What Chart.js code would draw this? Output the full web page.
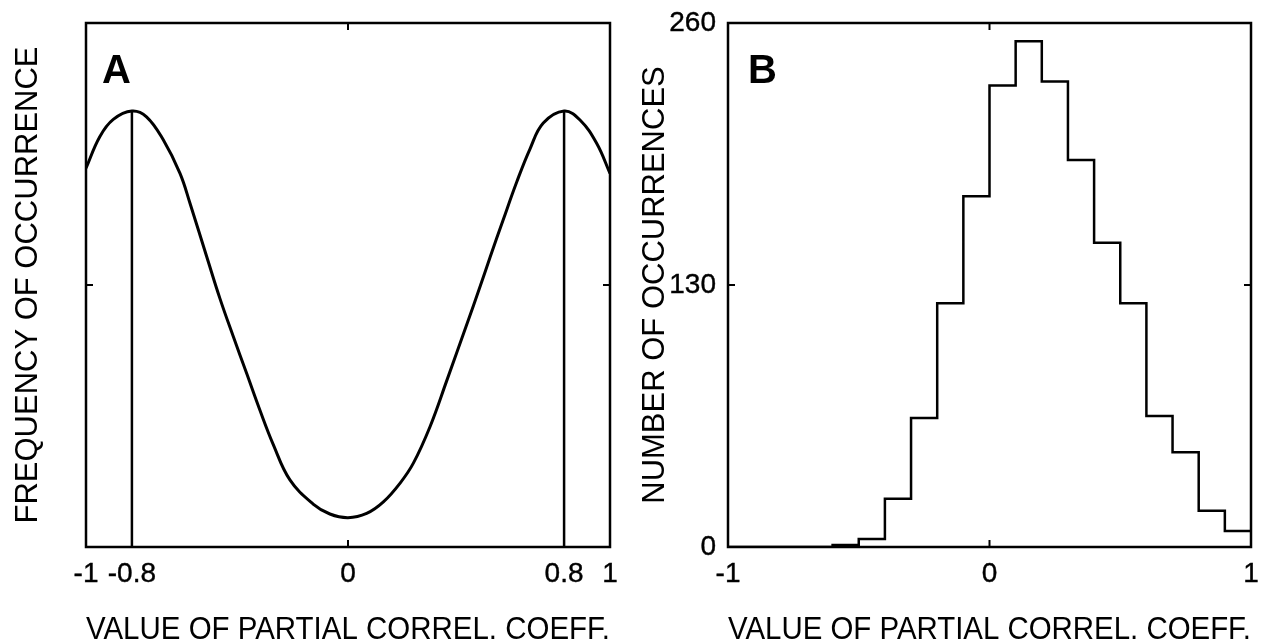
<!DOCTYPE html>
<html>
<head>
<meta charset="utf-8">
<title>Partial correlation coefficients</title>
<script src="https://cdn.jsdelivr.net/npm/chart.js@4.4.1/dist/chart.umd.min.js"></script>
<style>
  html, body { margin: 0; padding: 0; background: #fff; overflow: hidden; }
  #wrap { position: relative; width: 1265px; height: 643px; overflow: hidden; }
  canvas { position: absolute; top: 0; }
  #panelA { left: 0; }
  #panelB { left: 632px; }
</style>
</head>
<body>
<div id="wrap">
  <canvas id="panelA" width="632" height="660"></canvas>
  <canvas id="panelB" width="633" height="660"></canvas>
</div>
<script>
'use strict';

// ── Panel A: frequency curve ─────────────────────────────────────
const curveX = [-0.97, -0.919, -0.869, -0.80, -0.746, -0.684, -0.622, -0.585, -0.523, -0.474,
                -0.425, -0.375, -0.326, -0.277, -0.215, -0.129, -0.067, 0.0, 0.069,
                0.131, 0.193, 0.242, 0.304, 0.366, 0.440, 0.489, 0.526, 0.575, 0.625,
                0.674, 0.723, 0.80, 0.859, 0.921, 0.97];
const curveY = [0.723, 0.783, 0.816, 0.832, 0.821, 0.777, 0.713, 0.656, 0.554, 0.474,
                0.402, 0.331, 0.261, 0.196, 0.128, 0.082, 0.063, 0.056, 0.064,
                0.086, 0.122, 0.160, 0.230, 0.318, 0.425, 0.497, 0.553, 0.625, 0.697,
                0.760, 0.809, 0.832, 0.815, 0.770, 0.713];
const peakX = [-0.8, 0.8];
const peakY = [0.832, 0.832];
const aTickValues = [-0.97, -0.8, 0, 0.8, 0.97];
const aTickLabels = ['-1', '-0.8', '0', '0.8', '1'];

// ── Panel B: histogram, bins of 0.1 ──────────────────────────────
const binEdges = [-1.0, -0.9, -0.8, -0.7, -0.6, -0.5, -0.4, -0.3, -0.2, -0.1, 0,
                  0.1, 0.2, 0.3, 0.4, 0.5, 0.6, 0.7, 0.8, 0.9, 1.0];
const binCounts = [0, 0, 0, 0, 1, 4, 24, 64, 121, 174,
                   229, 251, 231, 192, 151, 121, 65, 47, 18, 8];
const bTickValues = [-1, 0, 1];
const bYTicks = [0, 130, 260];

const X_TITLE = 'VALUE OF PARTIAL CORREL. COEFF.';

// ── Defaults ─────────────────────────────────────────────────────
Chart.defaults.font.family = '"Liberation Sans", Arial, Helvetica, sans-serif';
Chart.defaults.color = '#000';
Chart.defaults.animation = false;
Chart.defaults.responsive = false;
Chart.defaults.devicePixelRatio = 1;
Chart.defaults.plugins.legend.display = false;
Chart.defaults.plugins.tooltip.enabled = false;

// box, inward tick marks, panel letter
const frame = {
  id: 'frame',
  afterDraw(chart, args, opts) {
    const { ctx, chartArea: a, scales: { x, y } } = chart;
    const len = 7;
    ctx.save();
    ctx.strokeStyle = '#000';
    ctx.lineWidth = 2.5;
    ctx.strokeRect(a.left, a.top, a.right - a.left, a.bottom - a.top);
    ctx.lineWidth = 2;
    ctx.beginPath();
    opts.xMarks.forEach(v => {
      const px = x.getPixelForValue(v);
      ctx.moveTo(px, a.bottom); ctx.lineTo(px, a.bottom - len);
      ctx.moveTo(px, a.top);    ctx.lineTo(px, a.top + len);
    });
    opts.yMarks.forEach(v => {
      const py = y.getPixelForValue(v);
      ctx.moveTo(a.left, py);  ctx.lineTo(a.left + len, py);
      ctx.moveTo(a.right, py); ctx.lineTo(a.right - len, py);
    });
    ctx.stroke();
    ctx.fillStyle = '#000';
    ctx.font = 'bold 40px "Liberation Sans", Arial, sans-serif';
    ctx.textBaseline = 'alphabetic';
    ctx.fillText(opts.letter, a.left + opts.letterDx, a.top + 60);
    ctx.restore();
  }
};

const tickFont = { size: 28 };
const titleFont = { size: 31 };

// keep the plot box where the picture has it
function noEdgePadding(s) {
  s.paddingTop = 0; s.paddingBottom = 0;
  s.paddingLeft = 0; s.paddingRight = 0;
}

function xAxis(min, max, values, labels) {
  return {
    type: 'linear', min, max,
    grid: { display: false, drawTicks: false },
    border: { display: false },
    afterBuildTicks: s => { s.ticks = values.map(v => ({ value: v })); },
    ticks: {
      autoSkip: false, maxRotation: 0, padding: 10, font: tickFont,
      textStrokeColor: '#000', textStrokeWidth: 0.4,
      callback: (v, i) => labels[i]
    },
    title: { display: true, text: X_TITLE, font: titleFont, padding: { top: 0, bottom: 11 } },
    afterFit: s => { s.height = 113; noEdgePadding(s); }
  };
}

// ── Panel A ──────────────────────────────────────────────────────
new Chart(document.getElementById('panelA'), {
  type: 'scatter',
  data: {
    datasets: [
      {
        data: curveX.map((v, i) => ({ x: v, y: curveY[i] })),
        showLine: true, borderColor: '#000', borderWidth: 3,
        pointRadius: 0, tension: 0.4
      },
      ...peakX.map((v, i) => ({
        data: [{ x: v, y: 0 }, { x: v, y: peakY[i] }],
        showLine: true, borderColor: '#000', borderWidth: 2.5, pointRadius: 0
      }))
    ]
  },
  options: {
    layout: { padding: { top: 23, right: 22, left: 0, bottom: 0 } },
    scales: {
      x: xAxis(aTickValues[0], aTickValues[aTickValues.length - 1], aTickValues, aTickLabels),
      y: {
        type: 'linear', min: 0, max: 1,
        grid: { display: false, drawTicks: false },
        border: { display: false },
        ticks: { display: false },
        title: { display: true, text: 'FREQUENCY OF OCCURRENCE', font: titleFont, padding: { top: 10, bottom: 0 } },
        afterFit: s => { s.width = 86; noEdgePadding(s); }
      }
    },
    plugins: { frame: { xMarks: [0], yMarks: [0.5], letter: 'A', letterDx: 16 } }
  },
  plugins: [frame]
});

// ── Panel B ──────────────────────────────────────────────────────
new Chart(document.getElementById('panelB'), {
  type: 'scatter',
  data: {
    datasets: [{
      data: binEdges.map((e, i) => ({ x: e, y: binCounts[Math.min(i, binCounts.length - 1)] })),
      showLine: true, stepped: 'before', borderColor: '#000', borderWidth: 2.5, pointRadius: 0
    }]
  },
  options: {
    layout: { padding: { top: 23, right: 14, left: 0, bottom: 0 } },
    scales: {
      x: xAxis(-1, 1, bTickValues, bTickValues.map(String)),
      y: {
        type: 'linear', min: bYTicks[0], max: bYTicks[bYTicks.length - 1],
        grid: { display: false, drawTicks: false },
        border: { display: false },
        afterBuildTicks: s => { s.ticks = bYTicks.map(v => ({ value: v })); },
        ticks: {
          padding: 12, font: tickFont,
          textStrokeColor: '#000', textStrokeWidth: 0.4,
          callback: v => String(v)
        },
        title: { display: true, text: 'NUMBER OF OCCURRENCES', font: titleFont, padding: { top: 5, bottom: 0 } },
        afterFit: s => { s.width = 96; noEdgePadding(s); }
      }
    },
    plugins: { frame: { xMarks: [0], yMarks: [130], letter: 'B', letterDx: 20 } }
  },
  plugins: [frame]
});
</script>
</body>
</html>
